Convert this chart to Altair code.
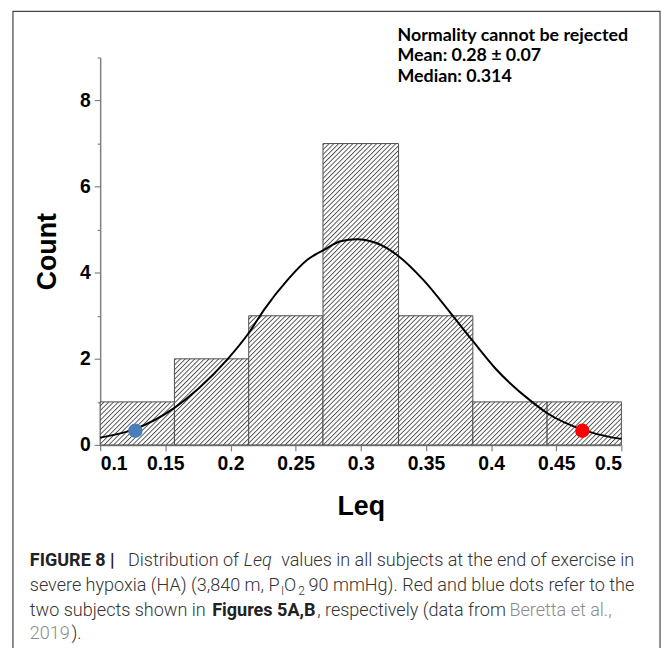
import altair as alt
import pandas as pd

# ---------------- data ----------------
bin_start = [0.100, 0.157, 0.214, 0.271, 0.329, 0.386, 0.443]
bin_end = [0.157, 0.214, 0.271, 0.329, 0.386, 0.443, 0.500]
counts = [1, 2, 3, 7, 3, 1, 1]

curve_x = [0.100, 0.126, 0.157, 0.1755, 0.198, 0.2147, 0.226, 0.244, 0.259,
           0.2718, 0.2844, 0.297, 0.312, 0.3288, 0.3478, 0.3706, 0.3858,
           0.4035, 0.4314, 0.4435, 0.4706, 0.4934, 0.500]
curve_y = [0.17, 0.36, 0.86, 1.31, 2.00, 2.63, 3.15, 3.84, 4.30,
           4.53, 4.73, 4.78, 4.69, 4.39, 3.84, 3.00, 2.42,
           1.77, 1.00, 0.73, 0.35, 0.17, 0.14]

dot_x = [0.127, 0.470]
dot_y = [0.33, 0.33]
dot_subject = ["Figure 5B", "Figure 5A"]

x_major = [0.1, 0.15, 0.2, 0.25, 0.3, 0.35, 0.4, 0.45, 0.5]
x_minor = [0.125, 0.175, 0.225, 0.275, 0.325, 0.375, 0.425, 0.475]
y_major = [0, 2, 4, 6, 8]
y_minor = [1, 3, 5, 7, 9]

annotation = ["Normality cannot be rejected", "Mean: 0.28 \u00b1 0.07", "Median: 0.314"]

# ---------------- tables ----------------
bars = pd.DataFrame({"start": bin_start, "end": bin_end, "count": counts})
curve = pd.DataFrame({"x": curve_x, "y": curve_y})
dots = pd.DataFrame({"x": dot_x, "y": dot_y, "subject": dot_subject})

AX_FONT = "Liberation Sans, Arial, sans-serif"
CAP_FONT = "Roboto, sans-serif"

x_scale = alt.Scale(domain=[0.1, 0.5], nice=False, zero=False)
y_scale = alt.Scale(domain=[0, 9], nice=False)

major_list = "[" + ",".join(str(v) for v in x_major) + "]"

x_axis = alt.Axis(
    values=sorted(x_major + x_minor),
    format=".2~f",
    labelExpr="indexof(" + major_list + ", datum.value) >= 0 ? datum.label : ''",
    tickSize={"condition": {"test": "indexof(" + major_list + ", datum.value) >= 0", "value": 6}, "value": 3},
    labelPadding=4,
    title="Leq",
    titlePadding=21,
)
y_axis = alt.Axis(
    values=sorted(y_major + y_minor),
    format="d",
    labelExpr="datum.value % 2 == 0 ? datum.label : ''",
    tickSize={"condition": {"test": "datum.value % 2 == 0", "value": 6}, "value": 3},
    labelPadding=4,
    title="Count",
    titlePadding=18,
)

hist = alt.Chart(bars).mark_rect(
    fill="url(#hatch)", stroke="#4d4d4d", strokeWidth=1
).encode(
    x=alt.X("start:Q", scale=x_scale, axis=x_axis),
    x2="end:Q",
    y=alt.Y("count:Q", scale=y_scale, axis=y_axis),
    y2=alt.datum(0),
)

line = alt.Chart(curve).mark_line(
    color="black", strokeWidth=2, interpolate="monotone"
).encode(x=alt.X("x:Q", scale=x_scale), y=alt.Y("y:Q", scale=y_scale))

pts = alt.Chart(dots).mark_circle(size=210, opacity=1).encode(
    x=alt.X("x:Q", scale=x_scale),
    y=alt.Y("y:Q", scale=y_scale),
    color=alt.Color("subject:N", scale=alt.Scale(domain=["Figure 5A", "Figure 5B"],
                                                 range=["#ff0000", "#4a7ebb"]), legend=None),
)


def txt(text, x, y, **kw):
    return alt.Chart(alt.Data(values=[{"t": text}])).mark_text(**kw).encode(
        x=alt.value(x), y=alt.value(y), text="t:N"
    )


frame = alt.Chart(alt.Data(values=[{}])).mark_rect(
    fill="transparent", stroke="#444", strokeWidth=1.2
).encode(x=alt.value(-88), x2=alt.value(565), y=alt.value(-46.5), y2=alt.value(700))

ann_kw = dict(font="Lato, Calibri, sans-serif", fontWeight="bold", fontSize=18,
              align="left", baseline="middle", color="black")
ann = [txt(annotation[0], 300, -22, **ann_kw),
       txt(annotation[1], 300, -1, **ann_kw),
       txt(annotation[2], 300, 20, **ann_kw)]

cap_size = 18.2
base = dict(font=CAP_FONT, fontSize=cap_size, fontWeight=300, baseline="middle", color="#333333")
bold = {**base, "fontWeight": "bold", "color": "#222222"}
grey = {**base, "color": "#8a8a8a"}
small = {**base, "fontSize": 12}
cap = [
    # line 1
    txt("FIGURE 8 |", -71, 508, align="left", **bold),
    txt("Distribution of", 28, 508, align="left", **base),
    txt("Leq", 145, 508, align="left", fontStyle="italic", **base),
    txt("values in all subjects at the end of exercise in", 539, 508, align="right", **base),
    # line 2
    txt("severe hypoxia (HA) (3,840 m, P", 181, 533.5, align="right", **base),
    txt("I", 182.5, 538, align="left", **small),
    txt("O", 185.5, 533.5, align="left", **base),
    txt("2", 200, 538, align="left", **small),
    txt("90 mmHg). Red and blue dots refer to the", 539, 533.5, align="right", **base),
    # line 3
    txt("two subjects shown in", -71, 558.3, align="left", **base),
    txt("Figures 5A,B", 113, 558.3, align="left", **bold),
    txt(", respectively (data from", 219, 558.3, align="left", **base),
    txt("Beretta et al.,", 413, 558.3, align="left", **grey),
    # line 4
    txt("2019", -71, 582, align="left", **grey),
    txt(").", -29, 582, align="left", **base),
]

chart = alt.layer(frame, hist, line, pts, *ann, *cap).properties(
    width=526, height=391,
    padding={"left": 93, "top": 47, "right": 43, "bottom": 202},
    autosize=alt.AutoSizeParams(type="none"),
).configure_view(strokeOpacity=0).configure_axis(
    grid=False,
    labelFont=AX_FONT, labelFontWeight="bold", labelFontSize=19.5, labelColor="black",
    titleFont=AX_FONT, titleFontWeight="bold", titleFontSize=27, titleColor="black",
    domainColor="#808080", domainWidth=1.5, tickColor="#808080", tickWidth=1.2,
)

chart.save("out.html", embed_options={"renderer": "svg", "actions": False})

# hatch pattern definition used by the bars' fill
defs = ('<svg width="0" height="0" style="position:absolute">'
        '<defs><pattern id="hatch" patternUnits="userSpaceOnUse" width="3.4" height="3.4" '
        'patternTransform="rotate(45)">'
        '<rect width="3.4" height="3.4" fill="white"/>'
        '<line x1="0.5" y1="0" x2="0.5" y2="3.4" stroke="#2e2e2e" stroke-width="0.8"/>'
        '</pattern></defs></svg>')
with open("out.html", encoding="utf-8") as f:
    html = f.read()
html = html.replace("<body>", "<body>\n" + defs, 1)
with open("out.html", "w", encoding="utf-8") as f:
    f.write(html)
